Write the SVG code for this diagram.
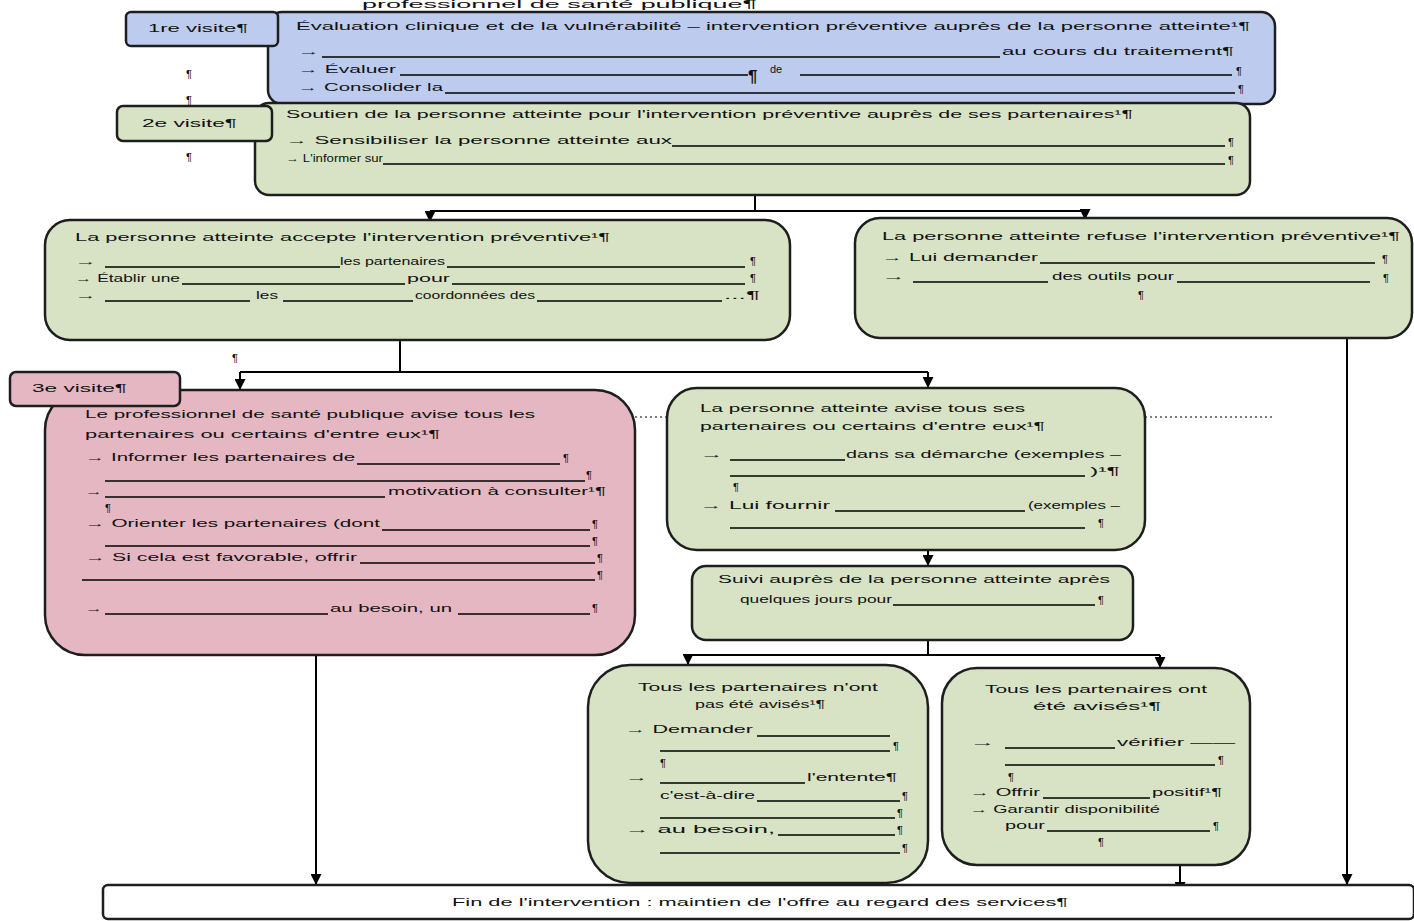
<svg xmlns="http://www.w3.org/2000/svg" width="1414" height="921" viewBox="0 0 1414 921">
<style>
.t{font-family:"Liberation Sans",Arial,sans-serif;font-size:11px;fill:#111}
.p{font-family:"Liberation Sans",Arial,sans-serif;font-size:11px;fill:#111;font-weight:bold}
.u{stroke:#000;stroke-width:1.6}
.bx{stroke:#1e1e1e;stroke-width:2.5}
.blue{fill:#bccbee}
.green{fill:#d7e3c4}
.pink{fill:#e4b7c2}
.white{fill:#fff}
.c{stroke:#000;stroke-width:2;fill:none}
.ca{stroke:#000;stroke-width:2;fill:none;marker-end:url(#arr)}
.dot{stroke:#000;stroke-width:1.2;stroke-dasharray:2 3;fill:none}
</style>
<defs>
<marker id="arr" viewBox="0 0 10 10" refX="10" refY="5" markerWidth="11" markerHeight="11" markerUnits="userSpaceOnUse" orient="auto"><path d="M0,0 L10,5 L0,10 z" fill="#000"/></marker>
</defs>

<text class="t" x="362" y="8" textLength="395" lengthAdjust="spacingAndGlyphs">professionnel de santé publique¶</text>

<g id="connectors">
<path class="c" d="M755,195 V211 M430,211 H1085"/>
<path class="ca" d="M430,211 V222"/>
<path class="ca" d="M1085,211 V220"/>
<path class="c" d="M400,340 V372 M240,372 H928"/>
<path class="ca" d="M240,372 V390"/>
<path class="ca" d="M928,372 V388"/>
<path class="ca" d="M1347,338 V885"/>
<path class="ca" d="M316,655 V885"/>
<path class="ca" d="M928,550 V566"/>
<path class="c" d="M928,640 V655 M688,655 H1160"/>
<path class="ca" d="M688,655 V665"/>
<path class="ca" d="M1160,655 V668"/>
<path class="ca" d="M1180,865 V893"/>
<path class="dot" d="M635,417 H667 M1145,417 H1275"/>
</g>

<g id="n1">
<rect class="bx blue" x="268" y="12" width="1007" height="92" rx="14"/>
<text class="t" x="296" y="30" textLength="954" lengthAdjust="spacingAndGlyphs">Évaluation clinique et de la vulnérabilité – intervention préventive auprès de la personne atteinte¹¶</text>
<text class="t" x="298" y="55" textLength="22" lengthAdjust="spacingAndGlyphs">→</text>
<line class="u" x1="322" y1="57" x2="1000" y2="57"/>
<text class="t" x="1002" y="55" textLength="232" lengthAdjust="spacingAndGlyphs">au cours du traitement¶</text>
<text class="t" x="298" y="73" textLength="98" lengthAdjust="spacingAndGlyphs">→ Évaluer</text>
<line class="u" x1="400" y1="75" x2="748" y2="75"/>
<text class="p" x="748" y="82" style="font-size:17px">¶</text>
<text class="t" x="770" y="73">de</text>
<line class="u" x1="800" y1="75" x2="1232" y2="75"/>
<text class="t" x="1236" y="75">¶</text>
<text class="t" x="298" y="91" textLength="145" lengthAdjust="spacingAndGlyphs">→ Consolider la</text>
<line class="u" x1="445" y1="93" x2="1235" y2="93"/>
<text class="t" x="1238" y="93">¶</text>
</g>

<g id="label1">
<rect class="bx blue" x="126" y="12" width="152" height="34" rx="5"/>
<text class="t" x="148" y="32" textLength="100" lengthAdjust="spacingAndGlyphs">1re visite¶</text>
<text class="t" x="186" y="78">¶</text>
<text class="t" x="186" y="104">¶</text>
</g>

<g id="n2">
<rect class="bx green" x="255" y="103" width="995" height="92" rx="14"/>
<text class="t" x="286" y="118" textLength="847" lengthAdjust="spacingAndGlyphs">Soutien de la personne atteinte pour l'intervention préventive auprès de ses partenaires¹¶</text>
<text class="t" x="286" y="144" textLength="386" lengthAdjust="spacingAndGlyphs">→ Sensibiliser la personne atteinte aux</text>
<line class="u" x1="672" y1="146" x2="1225" y2="146"/>
<text class="t" x="1228" y="146">¶</text>
<text class="t" x="286" y="162" textLength="97" lengthAdjust="spacingAndGlyphs">→ L'informer sur</text>
<line class="u" x1="383" y1="164" x2="1225" y2="164"/>
<text class="t" x="1228" y="164">¶</text>
</g>

<g id="label2">
<rect class="bx green" x="117" y="106" width="155" height="35" rx="6"/>
<text class="t" x="142" y="127" textLength="95" lengthAdjust="spacingAndGlyphs">2e visite¶</text>
<text class="t" x="186" y="161">¶</text>
</g>

<g id="n3">
<rect class="bx green" x="45" y="220" width="745" height="120" rx="25"/>
<text class="t" x="75" y="241" textLength="535" lengthAdjust="spacingAndGlyphs">La personne atteinte accepte l'intervention préventive¹¶</text>
<text class="t" x="75" y="265" textLength="22" lengthAdjust="spacingAndGlyphs">→</text>
<line class="u" x1="105" y1="267" x2="340" y2="267"/>
<text class="t" x="340" y="265" textLength="105" lengthAdjust="spacingAndGlyphs">les partenaires</text>
<line class="u" x1="447" y1="267" x2="745" y2="267"/>
<text class="t" x="750" y="265">¶</text>
<text class="t" x="75" y="282" textLength="105" lengthAdjust="spacingAndGlyphs">→ Établir une</text>
<line class="u" x1="182" y1="284" x2="405" y2="284"/>
<text class="t" x="407" y="282" textLength="43" lengthAdjust="spacingAndGlyphs">pour</text>
<line class="u" x1="452" y1="284" x2="745" y2="284"/>
<text class="t" x="750" y="282">¶</text>
<text class="t" x="75" y="299" textLength="22" lengthAdjust="spacingAndGlyphs">→</text>
<line class="u" x1="105" y1="301" x2="250" y2="301"/>
<text class="t" x="256" y="299" textLength="22" lengthAdjust="spacingAndGlyphs">les</text>
<line class="u" x1="283" y1="301" x2="413" y2="301"/>
<text class="t" x="415" y="299" textLength="120" lengthAdjust="spacingAndGlyphs">coordonnées des</text>
<line class="u" x1="537" y1="301" x2="722" y2="301"/>
<text class="t" x="724" y="299" textLength="36" lengthAdjust="spacingAndGlyphs">...¶</text>
</g>

<g id="n4">
<rect class="bx green" x="855" y="218" width="557" height="120" rx="25"/>
<text class="t" x="882" y="240" textLength="518" lengthAdjust="spacingAndGlyphs">La personne atteinte refuse l'intervention préventive¹¶</text>
<text class="t" x="882" y="261" textLength="156" lengthAdjust="spacingAndGlyphs">→ Lui demander</text>
<line class="u" x1="1040" y1="263" x2="1375" y2="263"/>
<text class="t" x="1382" y="263">¶</text>
<text class="t" x="882" y="280" textLength="24" lengthAdjust="spacingAndGlyphs">→</text>
<line class="u" x1="913" y1="282" x2="1048" y2="282"/>
<text class="t" x="1052" y="280" textLength="122" lengthAdjust="spacingAndGlyphs">des outils pour</text>
<line class="u" x1="1177" y1="282" x2="1370" y2="282"/>
<text class="t" x="1383" y="282">¶</text>
<text class="t" x="1138" y="299">¶</text>
</g>

<text class="t" x="232" y="362">¶</text>

<g id="n5">
<rect class="bx pink" x="45" y="390" width="590" height="265" rx="40"/>
<text class="t" x="85" y="418" textLength="450" lengthAdjust="spacingAndGlyphs">Le professionnel de santé publique avise tous les</text>
<text class="t" x="85" y="438" textLength="355" lengthAdjust="spacingAndGlyphs">partenaires ou certains d'entre eux¹¶</text>
<text class="t" x="85" y="461" textLength="270" lengthAdjust="spacingAndGlyphs">→ Informer les partenaires de</text>
<line class="u" x1="357" y1="464" x2="560" y2="464"/>
<text class="t" x="563" y="462">¶</text>
<line class="u" x1="105" y1="481" x2="585" y2="481"/>
<text class="t" x="586" y="479">¶</text>
<text class="t" x="85" y="495" textLength="18" lengthAdjust="spacingAndGlyphs">→</text>
<line class="u" x1="105" y1="497" x2="385" y2="497"/>
<text class="t" x="388" y="495" textLength="218" lengthAdjust="spacingAndGlyphs">motivation à consulter¹¶</text>
<text class="t" x="105" y="512">¶</text>
<text class="t" x="85" y="527" textLength="295" lengthAdjust="spacingAndGlyphs">→ Orienter les partenaires (dont</text>
<line class="u" x1="382" y1="530" x2="590" y2="530"/>
<text class="t" x="592" y="528">¶</text>
<line class="u" x1="105" y1="546" x2="590" y2="546"/>
<text class="t" x="592" y="545">¶</text>
<text class="t" x="85" y="561" textLength="272" lengthAdjust="spacingAndGlyphs">→ Si cela est favorable, offrir</text>
<line class="u" x1="360" y1="563" x2="595" y2="563"/>
<text class="t" x="597" y="562">¶</text>
<line class="u" x1="82" y1="580" x2="595" y2="580"/>
<text class="t" x="597" y="579">¶</text>
<text class="t" x="85" y="612" textLength="18" lengthAdjust="spacingAndGlyphs">→</text>
<line class="u" x1="105" y1="614" x2="328" y2="614"/>
<text class="t" x="330" y="612" textLength="122" lengthAdjust="spacingAndGlyphs">au besoin, un</text>
<line class="u" x1="458" y1="614" x2="590" y2="614"/>
<text class="t" x="592" y="612">¶</text>
</g>

<g id="label3">
<rect class="bx pink" x="10" y="372" width="170" height="34" rx="6"/>
<text class="t" x="32" y="392" textLength="95" lengthAdjust="spacingAndGlyphs">3e visite¶</text>
</g>

<g id="n6">
<rect class="bx green" x="667" y="388" width="478" height="162" rx="30"/>
<text class="t" x="700" y="412" textLength="325" lengthAdjust="spacingAndGlyphs">La personne atteinte avise tous ses</text>
<text class="t" x="700" y="430" textLength="345" lengthAdjust="spacingAndGlyphs">partenaires ou certains d'entre eux¹¶</text>
<text class="t" x="700" y="458" textLength="24" lengthAdjust="spacingAndGlyphs">→</text>
<line class="u" x1="730" y1="460" x2="845" y2="460"/>
<text class="t" x="846" y="458" textLength="275" lengthAdjust="spacingAndGlyphs">dans sa démarche (exemples –</text>
<line class="u" x1="730" y1="476" x2="1085" y2="476"/>
<text class="t" x="1090" y="475" textLength="30" lengthAdjust="spacingAndGlyphs">)¹¶</text>
<text class="t" x="733" y="491">¶</text>
<text class="t" x="700" y="509" textLength="130" lengthAdjust="spacingAndGlyphs">→ Lui fournir</text>
<line class="u" x1="835" y1="511" x2="1025" y2="511"/>
<text class="t" x="1028" y="509" textLength="92" lengthAdjust="spacingAndGlyphs">(exemples –</text>
<line class="u" x1="730" y1="528" x2="1085" y2="528"/>
<text class="t" x="1098" y="527">¶</text>
</g>

<g id="n7">
<rect class="bx green" x="692" y="566" width="441" height="74" rx="14"/>
<text class="t" x="718" y="583" textLength="392" lengthAdjust="spacingAndGlyphs">Suivi auprès de la personne atteinte après</text>
<text class="t" x="740" y="603" textLength="152" lengthAdjust="spacingAndGlyphs">quelques jours pour</text>
<line class="u" x1="893" y1="605" x2="1095" y2="605"/>
<text class="t" x="1098" y="604">¶</text>
</g>

<g id="n8">
<rect class="bx green" x="588" y="665" width="340" height="218" rx="42"/>
<text class="t" x="638" y="691" textLength="240" lengthAdjust="spacingAndGlyphs">Tous les partenaires n'ont</text>
<text class="t" x="695" y="708" textLength="130" lengthAdjust="spacingAndGlyphs">pas été avisés¹¶</text>
<text class="t" x="625" y="733" textLength="128" lengthAdjust="spacingAndGlyphs">→ Demander</text>
<line class="u" x1="757" y1="736" x2="890" y2="736"/>
<line class="u" x1="660" y1="751" x2="890" y2="751"/>
<text class="t" x="893" y="750">¶</text>
<text class="t" x="660" y="767">¶</text>
<text class="t" x="625" y="781" textLength="24" lengthAdjust="spacingAndGlyphs">→</text>
<line class="u" x1="660" y1="783" x2="805" y2="783"/>
<text class="t" x="807" y="781" textLength="90" lengthAdjust="spacingAndGlyphs">l'entente¶</text>
<text class="t" x="660" y="799" textLength="95" lengthAdjust="spacingAndGlyphs">c'est-à-dire</text>
<line class="u" x1="757" y1="801" x2="900" y2="801"/>
<text class="t" x="902" y="800">¶</text>
<line class="u" x1="660" y1="818" x2="895" y2="818"/>
<text class="t" x="897" y="817">¶</text>
<text class="t" x="625" y="833" textLength="150" lengthAdjust="spacingAndGlyphs">→ au besoin,</text>
<line class="u" x1="778" y1="835" x2="895" y2="835"/>
<text class="t" x="897" y="834">¶</text>
<line class="u" x1="660" y1="853" x2="900" y2="853"/>
<text class="t" x="902" y="852">¶</text>
</g>

<g id="n9">
<rect class="bx green" x="942" y="668" width="308" height="197" rx="35"/>
<text class="t" x="985" y="693" textLength="222" lengthAdjust="spacingAndGlyphs">Tous les partenaires ont</text>
<text class="t" x="1033" y="710" textLength="128" lengthAdjust="spacingAndGlyphs">été avisés¹¶</text>
<text class="t" x="970" y="746" textLength="26" lengthAdjust="spacingAndGlyphs">→</text>
<line class="u" x1="1005" y1="748" x2="1115" y2="748"/>
<text class="t" x="1117" y="746" textLength="118" lengthAdjust="spacingAndGlyphs">vérifier ——</text>
<line class="u" x1="1005" y1="765" x2="1215" y2="765"/>
<text class="t" x="1218" y="764">¶</text>
<text class="t" x="1008" y="781">¶</text>
<text class="t" x="970" y="796" textLength="70" lengthAdjust="spacingAndGlyphs">→ Offrir</text>
<line class="u" x1="1043" y1="798" x2="1150" y2="798"/>
<text class="t" x="1152" y="796" textLength="70" lengthAdjust="spacingAndGlyphs">positif¹¶</text>
<text class="t" x="970" y="813" textLength="190" lengthAdjust="spacingAndGlyphs">→ Garantir disponibilité</text>
<text class="t" x="1005" y="829" textLength="40" lengthAdjust="spacingAndGlyphs">pour</text>
<line class="u" x1="1047" y1="831" x2="1210" y2="831"/>
<text class="t" x="1213" y="830">¶</text>
<text class="t" x="1098" y="846">¶</text>
</g>

<g id="n10">
<rect class="bx white" x="103" y="885" width="1311" height="34" rx="5"/>
<text class="t" x="452" y="906" textLength="616" lengthAdjust="spacingAndGlyphs">Fin de l'intervention : maintien de l'offre au regard des services¶</text>
</g>
</svg>
